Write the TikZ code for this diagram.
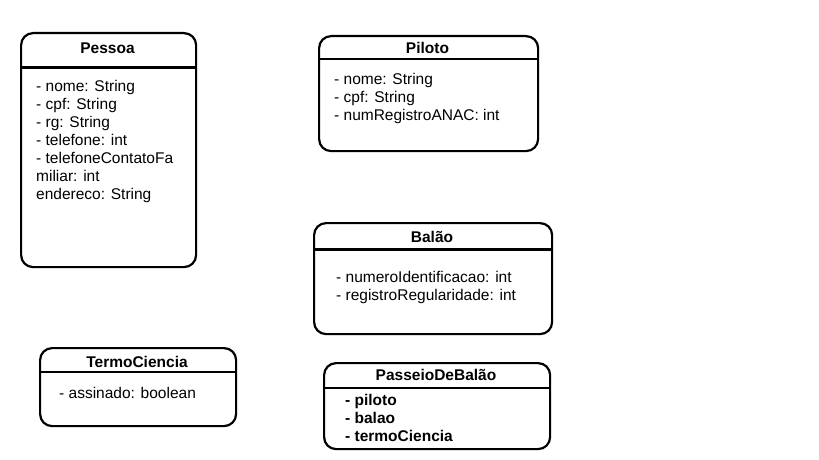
\documentclass[tikz,border=0pt]{standalone}
\usepackage{fontspec}
\setmainfont{Liberation Sans}
\usetikzlibrary{positioning}

\tikzset{
  classbox/.style={draw,line width=2.2pt,rounded corners=12pt,inner sep=0pt,anchor=north west},
  classname/.style={font=\fontsize{15.5}{18}\selectfont\bfseries,inner sep=0pt},
  attrs/.style={font=\fontsize{15.5}{18}\selectfont,align=left,anchor=base west,inner sep=0pt},
  sep/.style={line width=2.2pt}
}

\begin{document}
\begin{tikzpicture}[x=1pt,y=-1pt]
\useasboundingbox (0,0) rectangle (819,460);
% Pessoa
\node[classbox,minimum width=175pt,minimum height=234pt] (pessoa) at (20,32) {};
\node[classname] (pessoaT) at (107.5,48) {Pessoa};
\draw[sep] (20,67.5) -- (195,67.5);
\node[attrs] (pessoaA) at (36,199.5) {- nome: String\\- cpf: String\\- rg: String\\- telefone: int\\- telefoneContatoFa\\miliar: int\\endereco: String};
%
% Piloto
\node[classbox,minimum width=219pt,minimum height=115pt] (piloto) at (318,35) {};
\node[classname] (pilotoT) at (427.5,48) {Piloto};
\draw[sep] (318,59) -- (537,59);
\node[attrs] (pilotoA) at (334,120.5) {- nome: String\\- cpf: String\\- numRegistroANAC: int};
%
% Balao
\node[classbox,minimum width=238pt,minimum height=111pt] (balao) at (313,222) {};
\node[classname] (balaoT) at (432,237) {Balão};
\draw[sep] (313,249.5) -- (551,249.5);
\node[attrs] (balaoA) at (336,300.5) {- numeroIdentificacao: int\\- registroRegularidade: int};
%
% TermoCiencia
\node[classbox,minimum width=196pt,minimum height=78pt] (termo) at (39,347) {};
\node[classname] (termoT) at (137,362) {TermoCiencia};
\draw[sep] (39,372) -- (235,372);
\node[attrs] (termoA) at (59,398.5) {- assinado: boolean};
%
% PasseioDeBalao
\node[classbox,minimum width=226pt,minimum height=86pt] (passeio) at (323,362) {};
\node[classname] (passeioT) at (436,375) {PasseioDeBalão};
\draw[sep] (323,388) -- (549,388);
\node[attrs,font=\fontsize{15.5}{18}\selectfont\bfseries] (passeioA) at (345,441.5) {- piloto\\- balao\\- termoCiencia};
\end{tikzpicture}
\end{document}
